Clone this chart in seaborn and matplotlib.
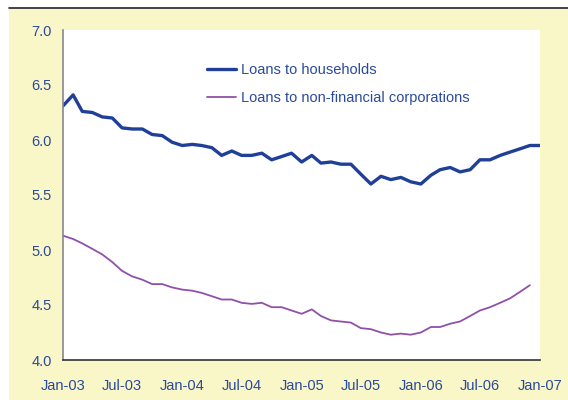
import pandas as pd
import matplotlib.pyplot as plt
import matplotlib.dates as mdates
from matplotlib.patches import Rectangle
from matplotlib.lines import Line2D
import seaborn as sns

# monthly data
households = [6.31, 6.41, 6.26, 6.25, 6.21, 6.20, 6.11, 6.10, 6.10, 6.05, 6.04, 5.98,
              5.95, 5.96, 5.95, 5.93, 5.86, 5.90, 5.86, 5.86, 5.88, 5.82, 5.85, 5.88,
              5.80, 5.86, 5.79, 5.80, 5.78, 5.78, 5.69, 5.60, 5.67, 5.64, 5.66, 5.62,
              5.60, 5.68, 5.73, 5.75, 5.71, 5.73, 5.82, 5.82, 5.86, 5.89, 5.92, 5.95,
              5.95]
corporations = [5.13, 5.10, 5.06, 5.01, 4.96, 4.89, 4.81, 4.76, 4.73, 4.69, 4.69, 4.66,
                4.64, 4.63, 4.61, 4.58, 4.55, 4.55, 4.52, 4.51, 4.52, 4.48, 4.48, 4.45,
                4.42, 4.46, 4.40, 4.36, 4.35, 4.34, 4.29, 4.28, 4.25, 4.23, 4.24, 4.23,
                4.25, 4.30, 4.30, 4.33, 4.35, 4.40, 4.45, 4.48, 4.52, 4.56, 4.62, 4.68]
labels = ["Loans to households", "Loans to non-financial corporations"]

dates_h = pd.date_range("2003-01-01", periods=len(households), freq="MS")
dates_c = pd.date_range("2003-01-01", periods=len(corporations), freq="MS")
df_h = pd.DataFrame({"date": dates_h, "value": households})
df_c = pd.DataFrame({"date": dates_c, "value": corporations})

sns.set_style("white")
plt.rcParams["font.family"] = ["Liberation Sans", "DejaVu Sans"]

blue = "#1f3f99"
purple = "#9050aa"
txt = "#2a4a9c"
yellow = "#f9f6c8"

fig = plt.figure(figsize=(5.68, 4), dpi=100, facecolor="white")
# yellow panel and top rule
fig.add_artist(Rectangle((9 / 568, 0), 1, 1 - 9 / 400, transform=fig.transFigure,
                         facecolor=yellow, edgecolor="none", zorder=-10))
fig.add_artist(Line2D([9 / 568, 1], [1 - 8 / 400, 1 - 8 / 400], transform=fig.transFigure,
                      color="#222222", lw=1.2, zorder=-10))

ax = fig.add_axes([63 / 568, 40 / 400, 477 / 568, 330 / 400])
ax.set_facecolor("white")

sns.lineplot(data=df_h, x="date", y="value", ax=ax, color=blue, lw=2.4, label=labels[0])
sns.lineplot(data=df_c, x="date", y="value", ax=ax, color=purple, lw=1.3, label=labels[1])

ax.set_ylim(4.0, 7.0)
ax.set_yticks([4.0, 4.5, 5.0, 5.5, 6.0, 6.5, 7.0])
ax.yaxis.set_major_formatter(plt.FormatStrFormatter("%.1f"))
ax.set_xlim(pd.Timestamp("2003-01-01"), pd.Timestamp("2007-01-01"))
ax.xaxis.set_major_locator(mdates.MonthLocator(bymonth=[1, 7]))
ax.xaxis.set_major_formatter(mdates.DateFormatter("%b-%y"))
ax.set_xlabel("")
ax.set_ylabel("")
ax.tick_params(axis="both", length=0, labelsize=10.5, labelcolor=txt)
ax.tick_params(axis="x", pad=14)
ax.tick_params(axis="y", pad=8)

for s in ["top", "right"]:
    ax.spines[s].set_visible(False)
ax.spines["left"].set_color("#888888")
ax.spines["left"].set_linewidth(1.2)
ax.spines["bottom"].set_color("#333333")
ax.spines["bottom"].set_linewidth(1.2)

leg = ax.legend(loc="upper left", bbox_to_anchor=(0.302, 0.90), frameon=False,
                borderpad=0, borderaxespad=0, fontsize=10.5, handlelength=2.0,
                handletextpad=0.3, labelspacing=0.95)
for t in leg.get_texts():
    t.set_color(txt)

fig.savefig("out.png", dpi=100, facecolor=fig.get_facecolor())
